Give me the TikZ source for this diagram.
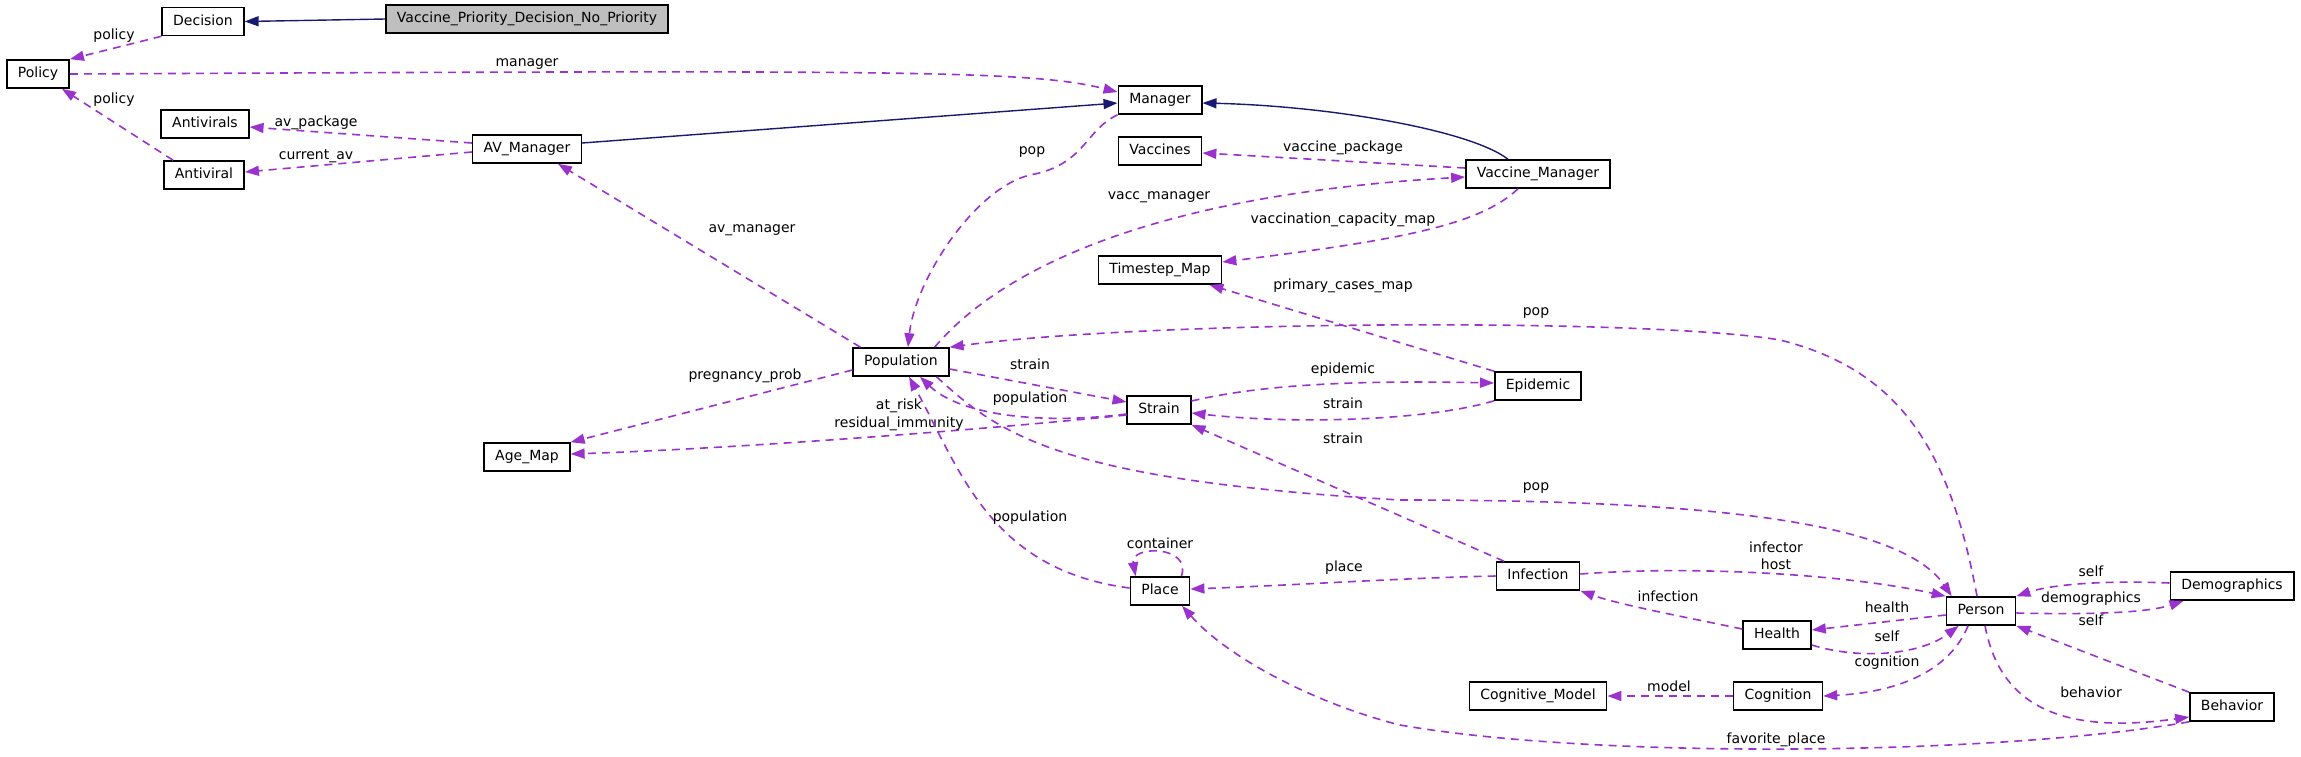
\documentclass[tikz,border=0pt]{standalone}
\usepackage{fontspec}
\setmainfont{DejaVu Sans}
\usetikzlibrary{arrows.meta}
\definecolor{usepurple}{RGB}{154,50,205}
\definecolor{inhnavy}{RGB}{25,25,112}
\definecolor{basegray}{RGB}{191,191,191}

\begin{document}
\begin{tikzpicture}[
  x=1pt, y=-1pt,
  every node/.style={font=\fontsize{14}{16}\selectfont},
  cls/.style={
    draw=black, line width=1.6pt, fill=white,
    inner xsep=11pt, inner ysep=0pt, minimum height=28pt,
    text height=10.5pt, text depth=3pt
  },
  base/.style={cls, fill=basegray},
  inherit/.style={-{Triangle[length=14pt,width=10pt]}, line width=1.4pt, color=inhnavy},
  uses/.style={-{Triangle[length=14pt,width=10pt]}, line width=1.6pt, color=usepurple,
    dash pattern=on 8pt off 6pt},
  lbl/.style={text=black, inner sep=0pt, align=center}
]
  \useasboundingbox (0,0) rectangle (2301,756);

  % Classi
  \node[base] (vpd) at (527,19) {Vaccine\_Priority\_Decision\_No\_Priority};
  \node[cls] (decision) at (203,21.5) {Decision};
  \node[cls] (policy) at (38,74) {Policy};
  \node[cls] (manager) at (1160,100) {Manager};
  \node[cls] (antivirals) at (205,124) {Antivirals};
  \node[cls] (avmanager) at (527,149) {AV\_Manager};
  \node[cls] (antiviral) at (204,175) {Antiviral};
  \node[cls] (vaccines) at (1160,151) {Vaccines};
  \node[cls] (vaccmanager) at (1538,174) {Vaccine\_Manager};
  \node[cls] (timestep) at (1160,270) {Timestep\_Map};
  \node[cls] (population) at (901,362) {Population};
  \node[cls] (epidemic) at (1538,386) {Epidemic};
  \node[cls] (strain) at (1159,410) {Strain};
  \node[cls] (agemap) at (527,457) {Age\_Map};
  \node[cls] (place) at (1160,591) {Place};
  \node[cls] (infection) at (1538,576) {Infection};
  \node[cls] (person) at (1981,611) {Person};
  \node[cls] (demographics) at (2232,586) {Demographics};
  \node[cls] (health) at (1777,635) {Health};
  \node[cls] (cogmodel) at (1538,696) {Cognitive\_Model};
  \node[cls] (cognition) at (1778,696) {Cognition};
  \node[cls] (behavior) at (2232,707) {Behavior};

  % Ereditarieta
  \draw[inherit] (vpd.west) -- (decision.east);
  \draw[inherit] ([yshift=6pt]avmanager.east) -- ([yshift=-3pt]manager.west);
  \draw[inherit] ([xshift=-30pt]vaccmanager.north) .. controls (1470,130) and (1330,106) .. ([yshift=-3pt]manager.east);

  % Relazioni d'uso
  \draw[uses] (decision.south west) -- (policy.north east)
    node[lbl] (lpol1) at (114,36) {policy};
  \draw[uses] ([xshift=10pt]antiviral.north west) -- ([xshift=-8pt]policy.south east)
    node[lbl] (lpol2) at (114,100) {policy};
  \draw[uses] (policy.east) .. controls (900,70) and (1030,70) .. ([yshift=8pt]manager.west)
    node[lbl] (lmgr) at (527,64) {manager};
  \draw[uses] ([yshift=6pt]avmanager.west) -- ([yshift=-3pt]antivirals.east)
    node[lbl] (lavp) at (316,123) {av\_package};
  \draw[uses] ([yshift=-3pt]avmanager.west) -- ([yshift=3pt]antiviral.east)
    node[lbl] (lcav) at (316,156) {current\_av};
  \draw[uses] (manager.south west) .. controls (1085,130) and (1085,165) .. (1030,175)
    .. controls (975,188) and (915,280) .. ([xshift=7pt]population.north)
    node[lbl] (lpop1) at (1032,152) {pop};
  \draw[uses] ([yshift=6pt]vaccmanager.west) -- ([yshift=-2pt]vaccines.east)
    node[lbl] (lvpk) at (1343,148) {vaccine\_package};
  \draw[uses] ([xshift=-15pt]population.north east) .. controls (1000,270) and (1150,195) .. ([yshift=-3pt]vaccmanager.west)
    node[lbl] (lvmg) at (1159,197) {vacc\_manager};
  \draw[uses] ([xshift=-20pt]vaccmanager.south) .. controls (1480,225) and (1400,240) .. ([yshift=8pt]timestep.east)
    node[lbl] (lvcm) at (1343,220) {vaccination\_capacity\_map};
  \draw[uses] ([xshift=8pt]population.north west) -- ([xshift=31pt]avmanager.south)
    node[lbl] (lavm) at (752,230) {av\_manager};
  \draw[uses] (epidemic.north west) -- ([xshift=-13pt]timestep.south east)
    node[lbl] (lpcm) at (1343,286) {primary\_cases\_map};
  \draw[uses] ([xshift=-4pt]person.north) .. controls (1950,450) and (1900,370) .. (1780,340)
    .. controls (1650,318) and (1150,320) .. (population.north east)
    node[lbl] (lpop2) at (1536,313) {pop};
  \draw[uses] ([yshift=-8pt]population.west) -- (agemap.north east)
    node[lbl] (lprg) at (745,376) {pregnancy\_prob};
  \draw[uses] ([yshift=-5pt]strain.west) .. controls (1000,428) and (750,448) .. ([yshift=3pt]agemap.east)
    node[lbl] (lrsk) at (899,415) {at\_risk\\[2pt]residual\_immunity};
  \draw[uses] ([yshift=-7pt]population.east) -- ([yshift=8pt]strain.west)
    node[lbl] (lstr1) at (1030,364) {strain};
  \draw[uses] ([yshift=-4pt]strain.west) .. controls (1040,425) and (960,415) .. ([xshift=19pt]population.south)
    node[lbl] (lpopl1) at (1030,399) {population};
  \draw[uses] ([yshift=9pt]strain.east) .. controls (1260,385) and (1350,380) .. ([yshift=3pt]epidemic.west)
    node[lbl] (lepi) at (1343,370) {epidemic};
  \draw[uses] (epidemic.south west) .. controls (1430,420) and (1300,425) .. ([yshift=-3pt]strain.east)
    node[lbl] (lstr2) at (1343,403) {strain};
  \draw[uses] ([xshift=-34pt]infection.north) -- (strain.south east)
    node[lbl] (lstr3) at (1343,438) {strain};
  \draw[uses] ([xshift=-13pt]population.south east) .. controls (1000,435) and (1060,480) .. (1400,500)
    .. controls (1700,500) and (1900,520) .. ([xshift=6pt]person.north west)
    node[lbl] (lpop3) at (1536,488) {pop};
  \draw[uses] ([yshift=3pt]place.west) .. controls (990,570) and (960,470) .. ([xshift=8pt]population.south)
    node[lbl] (lpopl2) at (1030,518) {population};
  \draw[uses] ([xshift=-9pt]place.north east) .. controls (1192,545) and (1130,545) .. ([xshift=6pt]place.north west)
    node[lbl] (lcnt) at (1160,543) {container};
  \draw[uses] (infection.west) .. controls (1400,578) and (1300,585) .. ([yshift=2pt]place.east)
    node[lbl] (lplc) at (1344,568) {place};
  \draw[uses] ([yshift=2pt]infection.east) .. controls (1700,565) and (1850,575) .. (person.north west)
    node[lbl] (linf) at (1776,556) {infector\\[1pt]host};
  \draw[uses] ([yshift=6pt]health.west) .. controls (1690,618) and (1620,605) .. (infection.south east)
    node[lbl] (lifn) at (1668,596) {infection};
  \draw[uses] ([yshift=-4pt]person.west) -- ([yshift=5pt]health.east)
    node[lbl] (lhlt) at (1887,607) {health};
  \draw[uses] ([yshift=-10pt]health.east) .. controls (1860,660) and (1920,655) .. ([xshift=13pt]person.south west)
    node[lbl] (lslf1) at (1887,636) {self};
  \draw[uses] ([xshift=-13pt]person.south) .. controls (1950,670) and (1900,692) .. (cognition.east)
    node[lbl] (lcog) at (1887,663) {cognition};
  \draw[uses] (cognition.west) -- (cogmodel.east)
    node[lbl] (lmdl) at (1669,686) {model};
  \draw[uses] ([yshift=3pt]demographics.west) .. controls (2100,580) and (2050,585) .. (person.north east)
    node[lbl] (lslf2) at (2091,571) {self};
  \draw[uses] ([yshift=-2pt]person.east) .. controls (2100,615) and (2150,612) .. ([xshift=14pt]demographics.south west)
    node[lbl] (ldem) at (2091,599) {demographics};
  \draw[uses] (behavior.north west) -- (person.south east)
    node[lbl] (lslf3) at (2091,620) {self};
  \draw[uses] ([xshift=4pt]person.south) .. controls (2000,705) and (2060,735) .. ([yshift=-10pt]behavior.west)
    node[lbl] (lbhv) at (2091,692) {behavior};
  \draw[uses] (behavior.south west) .. controls (2000,755) and (1600,760) .. (1400,725)
    .. controls (1320,705) and (1230,660) .. ([xshift=22pt]place.south)
    node[lbl] (lfav) at (1776,740) {favorite\_place};

\end{tikzpicture}
\end{document}
